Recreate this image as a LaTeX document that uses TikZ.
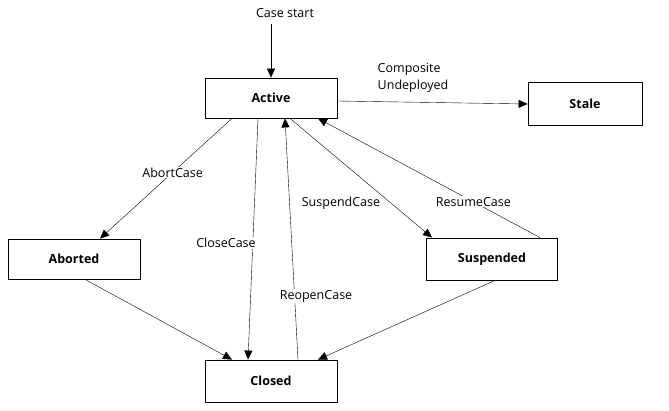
\documentclass[tikz,border=0pt]{standalone}
\usepackage{fontspec}
\setmainfont{Open Sans}
\usetikzlibrary{arrows.meta}
\begin{document}
\begin{tikzpicture}[x=1pt,y=-1pt,
  st/.style={draw,thick,minimum width=132pt,minimum height=40pt,inner sep=0pt,font=\fontsize{12.5}{15}\selectfont\bfseries},
  lab/.style={fill=white,inner sep=1pt,font=\fontsize{12.5}{15}\selectfont},
  ar/.style={-{Triangle[length=9pt,width=8pt]}}]
\useasboundingbox (0,0) rectangle (669,411);
\node[st] (act) at (271,98) {Active};
\node[st,minimum width=114pt,minimum height=43pt] (stale) at (585,104) {Stale};
\node[st] (abo) at (74,259) {Aborted};
\node[st,minimum width=131pt,minimum height=42pt] (sus) at (492,259) {Suspended};
\node[st,minimum height=42pt] (clo) at (271,381) {Closed};
\node[lab] (cs) at (285,13) {Case start};
\coordinate (csb) at (271,24);
\draw[ar] (csb) -- (act.north);
\draw[ar] (act.east |- 0,101) -- (stale.west |- 0,104);
\node[lab,align=left] at (413,78) {Composite\\[2pt]Undeployed};
\draw[ar] ([xshift=-39pt]act.south) -- node[lab,pos=0.45]{AbortCase} ([xshift=26pt]abo.north);
\draw[ar] ([xshift=-13pt]act.south) -- ([xshift=-23pt]clo.north);
\node[lab] at (226,243) {CloseCase};
\draw[ar] ([xshift=27pt]clo.north) -- ([xshift=14pt]act.south);
\node[lab] at (316,296) {ReopenCase};
\draw[ar] ([xshift=19pt]act.south) -- ([xshift=-60pt]sus.north);
\node[lab] at (341,203) {SuspendCase};
\draw[ar] ([xshift=48pt]sus.north) -- node[lab,pos=0.3]{ResumeCase} ([xshift=47pt]act.south);
\draw[ar] ([xshift=11pt]abo.south) -- ([xshift=-39pt]clo.north);
\draw[ar] ([xshift=3pt]sus.south) -- ([xshift=47pt]clo.north);
\end{tikzpicture}
\end{document}
